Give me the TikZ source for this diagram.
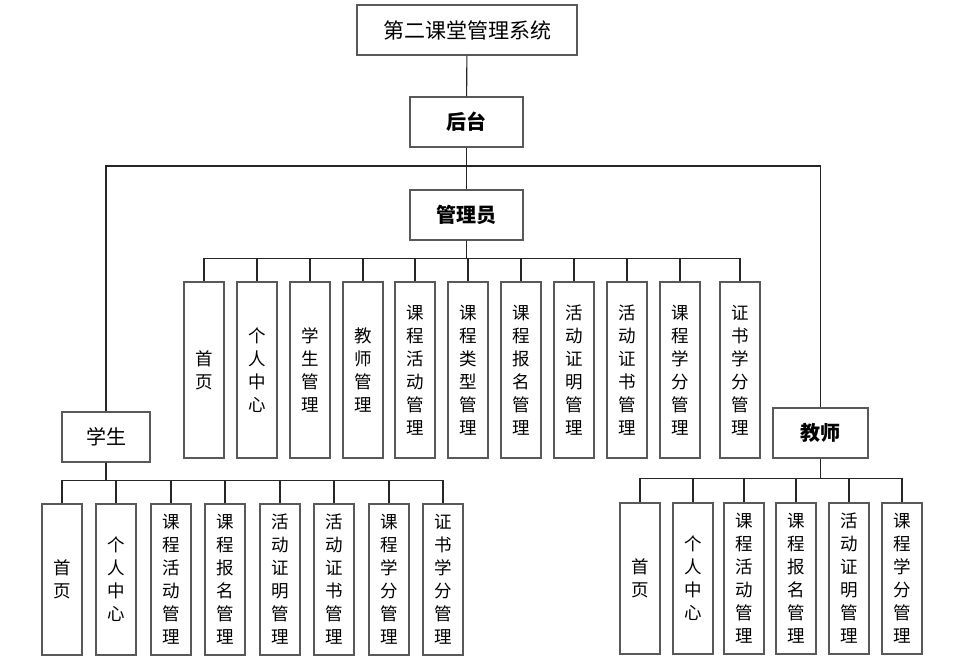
\documentclass[tikz,border=0pt]{standalone}
\usepackage{fontspec}
\newfontfamily\cjk{Noto Sans CJK SC}
\usetikzlibrary{positioning}

\begin{document}
\begin{tikzpicture}[x=1pt,y=-1pt,
	  box/.style={draw=black!65,line width=1.4pt,inner sep=0pt,font=\cjk\fontsize{20}{23}\selectfont},
	  head/.style={box,minimum height=50pt,font=\cjk\bfseries\fontsize{20}{23}\selectfont},
	  leaf/.style={box,minimum width=40pt,align=center,font=\cjk\fontsize{17.5}{23}\selectfont},
	  link/.style={draw=black!85,line width=1.1pt}
	]
		\useasboundingbox (0,0) rectangle (962,668);
		% top levels
		\node [box,minimum width=220pt,minimum height=50pt,font=\cjk\fontsize{21}{23}\selectfont] (sys) at (467,30) {第二课堂管理系统};
		\node [head,minimum width=113pt] (ht) at (466.5,122) {后台};
		\node [head,minimum width=113pt] (gly) at (466.5,215) {管理员};
		\node [box,minimum width=88pt,minimum height=50pt] (xs) at (106,437) {学生};
		\node [head,minimum width=95pt] (js) at (820.5,433) {教师};
		\coordinate (fork) at (466.5,166);
		\draw [link] (sys) -- (ht);
		\draw [link] (ht) -- (gly);
		\draw [link] (xs.north) |- (fork) -| (js.north);
		% admin
		\foreach \x/\t [count=\i] in {204/{首\\页},257/{个\\人\\中\\心},310/{学\\生\\管\\理},363/{教\\师\\管\\理},
			415/{课\\程\\活\\动\\管\\理},468/{课\\程\\类\\型\\管\\理},521/{课\\程\\报\\名\\管\\理},574/{活\\动\\证\\明\\管\\理},
			627/{活\\动\\证\\书\\管\\理},680/{课\\程\\学\\分\\管\\理},740/{证\\书\\学\\分\\管\\理}} {
			\node [leaf,minimum height=176pt] (g\i) at (\x,370) {\t};
			\draw [link] (gly.south) -- ++(0,18) -| (g\i.north);
		}
		% student
		\foreach \x/\t [count=\i] in {62/{首\\页},116/{个\\人\\中\\心},171/{课\\程\\活\\动\\管\\理},225/{课\\程\\报\\名\\管\\理},
			280/{活\\动\\证\\明\\管\\理},334/{活\\动\\证\\书\\管\\理},389/{课\\程\\学\\分\\管\\理},443/{证\\书\\学\\分\\管\\理}} {
			\node [leaf,minimum height=151pt] (s\i) at (\x,579.5) {\t};
			\draw [link] (xs.south) -- ++(0,18) -| (s\i.north);
		}
		% teacher
		\foreach \x/\t [count=\i] in {640/{首\\页},693/{个\\人\\中\\心},744/{课\\程\\活\\动\\管\\理},796/{课\\程\\报\\名\\管\\理},
			849/{活\\动\\证\\明\\管\\理},902/{课\\程\\学\\分\\管\\理}} {
			\node [leaf,minimum height=151pt] (t\i) at (\x,578.5) {\t};
			\draw [link] (js.south) -- ++(0,20) -| (t\i.north);
		}
	\end{tikzpicture}
\end{document}
